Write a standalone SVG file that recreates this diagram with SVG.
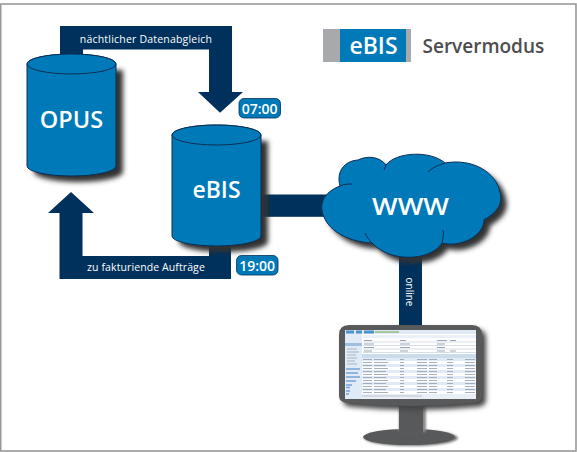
<svg xmlns="http://www.w3.org/2000/svg" width="577" height="452" viewBox="0 0 577 452">
<style>
.lbl{font-family:"Open Sans","Noto Sans",sans-serif;fill:#fff;text-anchor:middle}
.big{font-weight:600}
.cyl{fill:#0079b8;stroke:#0c2f55;stroke-width:1}
.conn{fill:#00315c}
.badge{fill:#0079b8;stroke:#00315c;stroke-width:.8}
.shadow{fill:#333}
</style>
<defs>
<filter id="sh" x="-20%" y="-20%" width="150%" height="150%"><feGaussianBlur stdDeviation="2.6"/></filter>
<filter id="soft" x="-20%" y="-20%" width="140%" height="140%"><feGaussianBlur stdDeviation="1"/></filter>
<filter id="fine" x="-2%" y="-2%" width="104%" height="104%"><feGaussianBlur stdDeviation=".45"/></filter>
<pattern id="rows" width="130" height="6" patternUnits="userSpaceOnUse" patternTransform="translate(345 358)">
<rect width="130" height="6" fill="#fff"/><rect y="0" width="130" height="3" fill="#dbe8f6"/>
<path d="M18 1.500h9M29 1.500h12M55 1.500h4M72 1.500h10M84 1.500h8M102 1.500h6M120 1.500h10M18 4.500h9M29 4.500h14M55 4.500h4M72 4.500h10M84 4.500h8M102 4.500h6M120 4.500h10" stroke="#7f8c9e" stroke-width="1" stroke-opacity=".8"/>
</pattern>
</defs>
<rect id="frame" x="0.700" y="4" width="575.300" height="447" fill="#fff" stroke="#999" stroke-width="1.600"/>
<g id="connectors">
<path class="conn" d="M60 56V26H232V92H243L220 112.700L198 92H209V49.500H83V56Z"/>
<path class="conn" d="M209 245V256H82.500V213H94L71 192L48 213H59.500V279H231V245Z"/>
<rect class="conn" x="260" y="194.500" width="70" height="22.300"/>
<rect class="conn" x="399" y="250" width="23" height="76"/>
</g>
<g id="label-sync"><text class="lbl" x="146" y="43" font-size="10.500" letter-spacing=".2">nächtlicher Datenabgleich</text></g>
<g id="label-orders"><text class="lbl" x="146" y="271" font-size="10.500" letter-spacing=".1">zu fakturiende Aufträge</text></g>
<g id="label-online"><text class="lbl" transform="translate(406 292) rotate(90)" font-size="10">online</text></g>
<g id="badge-0700"><rect class="badge" x="239" y="98.500" width="41.500" height="19.500" rx="5"/><text class="lbl" x="259.700" y="113.700" font-size="14" font-weight="600">07:00</text></g>
<g id="badge-1900"><rect class="badge" x="236.500" y="255.500" width="41.500" height="19.500" rx="5"/><text class="lbl" x="257.200" y="270.500" font-size="14" font-weight="600">19:00</text></g>
<g id="opus">
<path class="shadow" d="M27 64V166A44.500 10 0 0 0 116 166V64Z" filter="url(#sh)" transform="translate(7 6)"/>
<path class="cyl" d="M27 64V166A44.500 10 0 0 0 116 166V64A44.500 10 0 0 0 27 64Z"/>
<ellipse class="cyl" cx="71.500" cy="64" rx="44.500" ry="10"/>
<text class="lbl big" x="71.500" y="127.500" font-size="23.500">OPUS</text>
</g>
<g id="ebis">
<path class="shadow" d="M172 135V236A44.500 10 0 0 0 261 236V135Z" filter="url(#sh)" transform="translate(7 6)"/>
<path class="cyl" d="M172 135V236A44.500 10 0 0 0 261 236V135A44.500 10 0 0 0 172 135Z"/>
<ellipse class="cyl" cx="216.500" cy="135" rx="44.500" ry="10"/>
<text class="lbl big" x="216.500" y="198" font-size="23">eBIS</text>
</g>
<g id="www">
<path class="shadow" d="M340 186C336 172 344 161 358 160C368 155 380 157 386 165C396 152 430 150 445 163C472 158 496 172 500 192C504 206 494 214 484 220C484 236 460 248 442 243C432 260 392 264 372 243C350 242 330 232 324 217C318 204 324 192 340 186Z" filter="url(#sh)" transform="translate(6 6)"/>
<path d="M340 186C336 172 344 161 358 160C368 155 380 157 386 165C396 152 430 150 445 163C472 158 496 172 500 192C504 206 494 214 484 220C484 236 460 248 442 243C432 260 392 264 372 243C350 242 330 232 324 217C318 204 324 192 340 186Z" fill="#0079b8" stroke="#0c2f55" stroke-width="1"/>
<path d="M340 186C344 184 348 184 352 184M386 165C385 167 385 168 384 170M428 172C433 167 439 165 445 163M372 243C369 240 367 237 365 233M442 243C443 238 444 234 443 230M484 220C486 219 487 218 484 220" fill="none" stroke="#0c2f55" stroke-width="1"/>
<text class="lbl big" x="410.500" y="215" font-size="24" textLength="77" lengthAdjust="spacingAndGlyphs">WWW</text>
</g>
<g id="logo">
<rect x="323" y="29" width="88" height="33" fill="#a7a9ac"/>
<rect x="340" y="29" width="66" height="33" fill="#0079b8"/>
<text class="lbl big" x="373.500" y="54" font-size="23">eBIS</text>
<text x="422.500" y="52.700" font-family="Open Sans,Noto Sans,sans-serif" font-size="19" font-weight="600" fill="#4d4d4f">Servermodus</text>
</g>
<g id="monitor">
<ellipse cx="411" cy="438" rx="47" ry="8" fill="#777" filter="url(#soft)"/>
<ellipse cx="409" cy="437" rx="46" ry="8" fill="#58595b"/>
<rect x="399" y="400" width="27" height="32" fill="#8a8a8c" filter="url(#soft)"/>
<rect x="399" y="400" width="24" height="33" fill="#58595b"/>
<path d="M349 325H472Q482 325 482 335V396Q482 403 472 403Q411 409 349 403Q339 403 339 396V335Q339 325 349 325Z" fill="#444" filter="url(#sh)" transform="translate(4 4)"/>
<path d="M349 325H472Q482 325 482 335V396Q482 403 472 403Q411 409 349 403Q339 403 339 396V335Q339 325 349 325Z" fill="#58595b"/>
<rect x="345" y="330" width="131" height="69" fill="#fff"/>
<g filter="url(#fine)" opacity=".85">
<rect x="345" y="330" width="131" height="4" fill="#d9e6f4"/>
<path d="M346 332h8M356 332h6M364 332h10" stroke="#2f7fc0" stroke-width="3"/>
<path d="M375 332h24" stroke="#7fb267" stroke-width="1.500"/>
<rect x="345" y="334" width="17" height="65" fill="#dce8f6"/>
<rect x="345" y="343" width="17" height="3" fill="#8fb4dc"/>
<path d="M346 369h14M346 373h12M346 377h14M346 381h10M346 385h6M346 387.500h4M346 391h4M346 394h3" stroke="#5d93cf" stroke-width="1.300"/>
<path d="M347 349h10M347 352h12M347 355h9M347 358h10M347 361h8M347 364h10" stroke="#9aa7b8" stroke-width="1"/>
<rect x="363" y="335" width="113" height="3" fill="#e6eef7"/>
<path d="M363 342H476M363 345.500H476M363 349H476M363 352.500H476" stroke="#cfd9e6" stroke-width="1"/>
<path d="M364 340.500h8M364 344h10M364 347.500h10M364 351h8M400 340.500h6M400 344h10M400 347.500h10M400 351h8M437 340.500h10M437 344h8M437 347.500h8M437 351h8M450 340.500h6M450 351h6" stroke="#8a97a8" stroke-width="1"/>
<rect x="362" y="354" width="114" height="4" fill="#c4d6ea"/>
<rect x="362" y="358" width="114" height="36" fill="url(#rows)"/>
<rect x="362" y="394" width="114" height="5" fill="#e6edf5"/>
<path d="M362 396h60" stroke="#c3cad3" stroke-width="1.500"/>
</g>
</g>
</svg>
